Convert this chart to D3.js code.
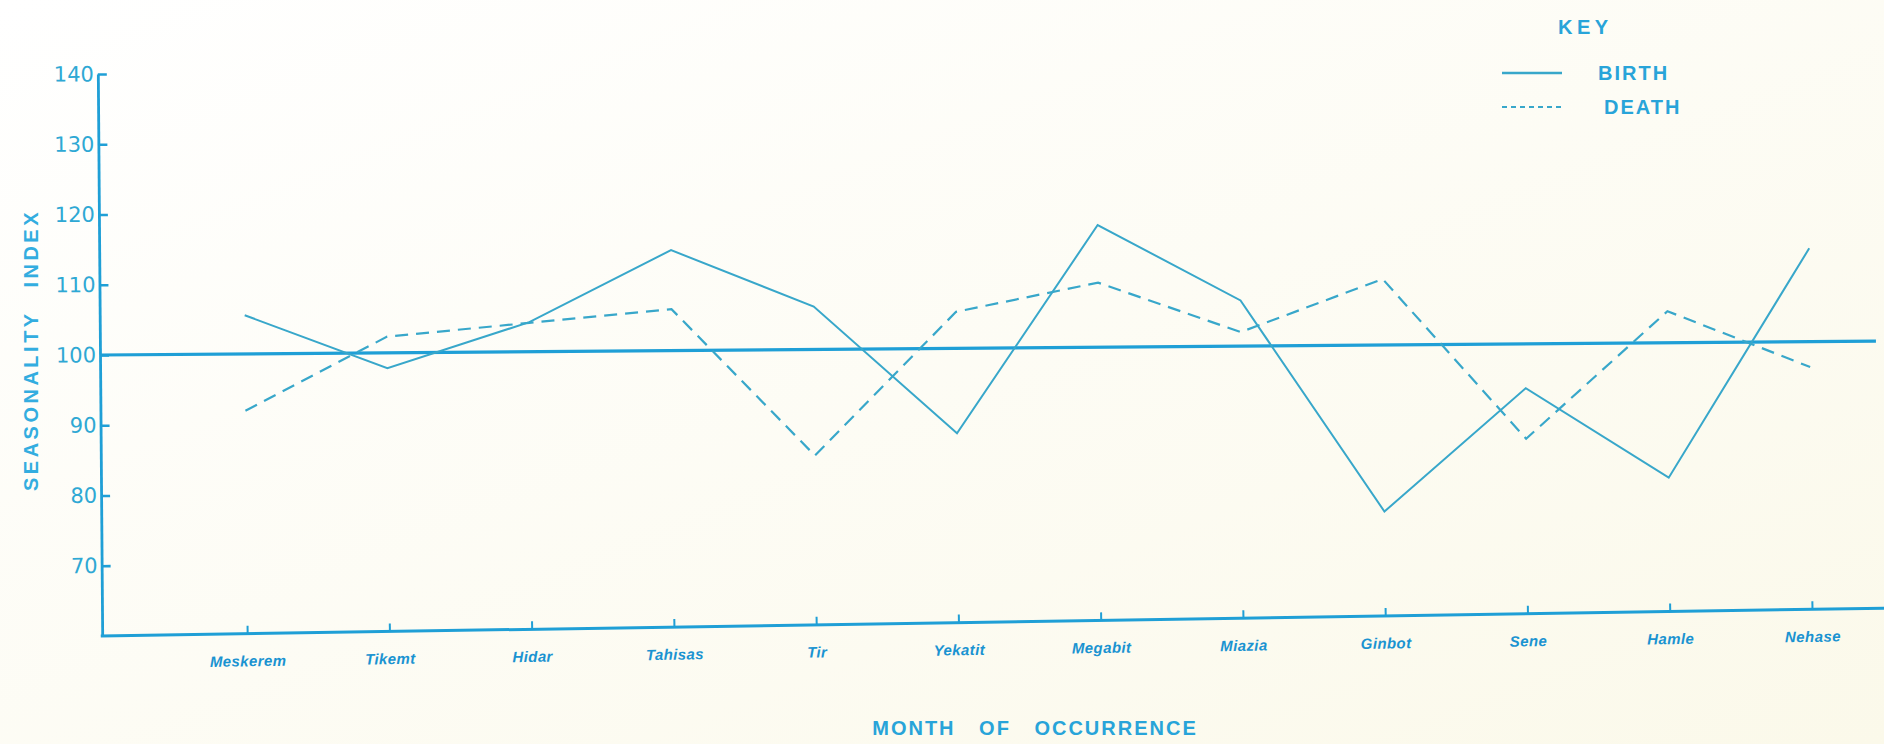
<!DOCTYPE html>
<html><head><meta charset="utf-8">
<script src="https://cdn.jsdelivr.net/npm/d3@7"></script>
<style>html,body{margin:0;padding:0;background:#fdfdf7;} svg{display:block}</style>
</head><body>
<svg id="chart" width="1884" height="744"></svg>
<script>
const months = ["Meskerem","Tikemt","Hidar","Tahisas","Tir","Yekatit","Megabit","Miazia","Ginbot","Sene","Hamle","Nehase"];
const birth = [105.5, 97.8, 104.2, 114.3, 106.1, 87.9, 117.4, 106.5, 76.3, 93.7, 80.8, 113.3];
const death = [91.9, 102.3, 104.1, 105.9, 84.9, 105.2, 109.2, 102.0, 109.4, 86.5, 104.5, 96.4];
const yTicks = [70, 80, 90, 100, 110, 120, 130, 140];
const yDomain = [60, 140];
const seriesNames = ["BIRTH", "DEATH"];

const W = 1884, H = 744;
const axisColor = "#1f9fd6", dataColor = "#38a7ca", textColor = "#28a4d9", tickTextColor = "#1a93d1";
const svg = d3.select("#chart");

const defs = svg.append("defs");
const grad = defs.append("linearGradient").attr("id", "bg").attr("x1", "0").attr("y1", "0").attr("x2", "1").attr("y2", "1");
grad.append("stop").attr("offset", "0").attr("stop-color", "#ffffff");
grad.append("stop").attr("offset", "1").attr("stop-color", "#fbf9ea");
svg.append("rect").attr("width", W).attr("height", H).attr("fill", "url(#bg)");

const ox = 100;
const x = d3.scalePoint().domain(months).range([245, 1810]);
const y = d3.scaleLinear().domain(yDomain).range([636, 74]);

const plot = svg.append("g").attr("transform", `rotate(-0.445, ${ox}, ${y(100)})`);

// Y axis
const yg = plot.append("g").attr("transform", `translate(${ox},0)`)
  .call(d3.axisLeft(y).tickValues(yTicks).tickSizeInner(-9).tickSizeOuter(0).tickPadding(4).tickFormat(d3.format("d")));
yg.select(".domain").attr("stroke", axisColor).attr("stroke-width", 2.8);
yg.selectAll(".tick line").attr("stroke", axisColor).attr("stroke-width", 2.6);
yg.selectAll(".tick text").attr("fill", "#2ea8d4").style("font-family", "DejaVu Sans").style("font-size", "21px");

// Reference line at 100
plot.append("line").attr("x1", ox).attr("x2", 1876).attr("y1", y(100)).attr("y2", y(100))
  .attr("stroke", axisColor).attr("stroke-width", 3.2);

// X axis
const xg = plot.append("g").attr("transform", `translate(0,${y(yDomain[0])}) rotate(-0.45, ${ox}, 0)`);
xg.append("line").attr("x1", ox - 1.4).attr("x2", 1900).attr("y1", 0).attr("y2", 0)
  .attr("stroke", axisColor).attr("stroke-width", 3);
xg.call(d3.axisBottom(x).tickSizeInner(-8).tickSizeOuter(0).tickPadding(22));
xg.select(".domain").remove();
xg.selectAll(".tick line").attr("stroke", axisColor).attr("stroke-width", 2);
xg.selectAll(".tick text").attr("fill", tickTextColor).style("font-family", "Liberation Sans").style("font-weight", "bold")
  .style("font-style", "italic").style("font-size", "15px").style("letter-spacing", "0.4px");

// Data lines
const line = d3.line().x((d, i) => x(months[i])).y(d => y(d));
plot.append("path").datum(birth).attr("d", line).attr("fill", "none")
  .attr("stroke", dataColor).attr("stroke-width", 2).attr("stroke-linejoin", "miter");
plot.append("path").datum(death).attr("d", line).attr("fill", "none")
  .attr("stroke", dataColor).attr("stroke-width", 2.2).attr("stroke-dasharray", "13,8");

// Axis titles
svg.append("text").attr("transform", "translate(31,350) rotate(-90)")
  .attr("text-anchor", "middle").attr("dominant-baseline", "central")
  .attr("fill", "#33ade0").style("font-family", "Liberation Sans").style("font-weight", "bold")
  .style("font-size", "20px").style("letter-spacing", "3.5px").style("word-spacing", "14px")
  .text("SEASONALITY INDEX");
svg.append("text").attr("x", 1035).attr("y", 728)
  .attr("text-anchor", "middle").attr("dominant-baseline", "central")
  .attr("fill", textColor).style("font-family", "Liberation Sans").style("font-weight", "bold")
  .style("font-size", "20px").style("letter-spacing", "2px").style("word-spacing", "16px")
  .text("MONTH OF OCCURRENCE");

// Legend
const lg = svg.append("g");
lg.append("text").attr("x", 1558).attr("y", 27).attr("dominant-baseline", "central")
  .attr("fill", textColor).style("font-family", "Liberation Sans").style("font-size", "20px")
  .style("font-weight", "bold").style("letter-spacing", "4.5px").text("KEY");
const legendRows = [{name: seriesNames[0], dash: null, y: 73, tx: 1598}, {name: seriesNames[1], dash: "5,4", y: 107, tx: 1604}];
legendRows.forEach(r => {
  lg.append("line").attr("x1", 1502).attr("x2", 1562).attr("y1", r.y).attr("y2", r.y)
    .attr("stroke", dataColor).attr("stroke-width", r.dash ? 2 : 2.6).attr("stroke-dasharray", r.dash);
  lg.append("text").attr("x", r.tx).attr("y", r.y).attr("dominant-baseline", "central")
    .attr("fill", textColor).style("font-family", "Liberation Sans").style("font-size", "20px")
    .style("font-weight", "bold").style("letter-spacing", "2px").text(r.name);
});
</script>
</body></html>
